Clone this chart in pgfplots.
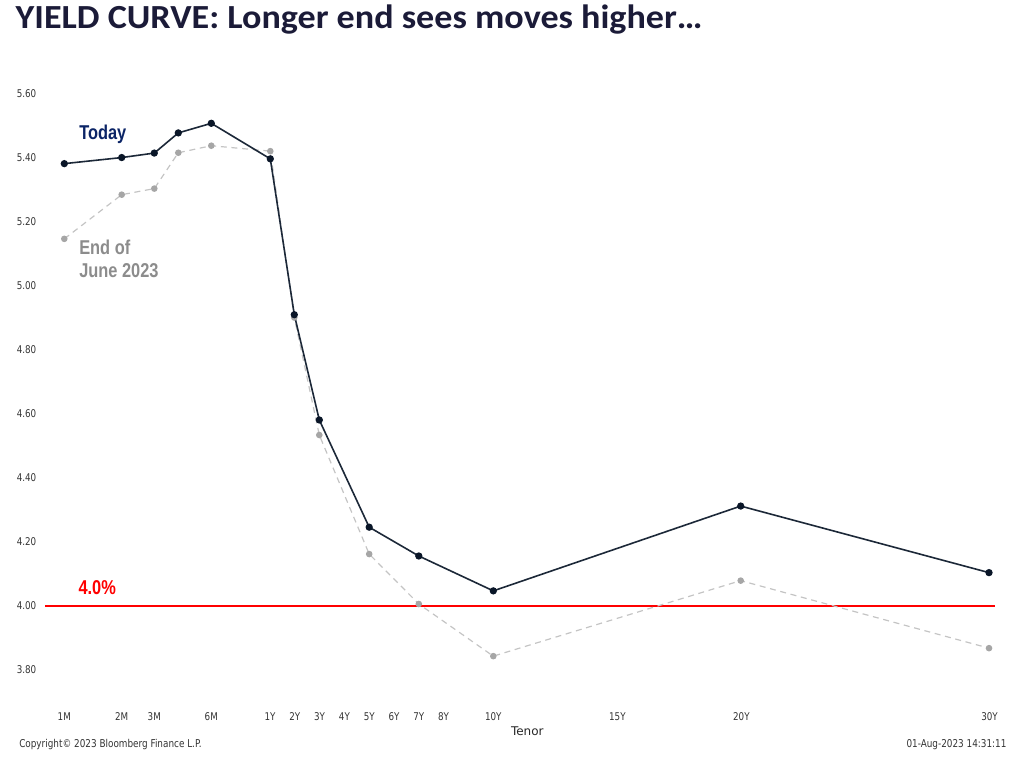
\documentclass[border=0pt]{standalone}
\usepackage{pgfplots}
\pgfplotsset{compat=1.18}
\usepackage{fontspec}
\setmainfont{DejaVu Sans}
\newfontfamily\titlefont[FakeStretch=1.07]{Carlito}
\newfontfamily\condfont[FakeStretch=0.82]{Liberation Sans}
\newfontfamily\tickfont[FakeStretch=0.82]{DejaVu Sans}
\definecolor{titlecol}{HTML}{1B1B38}
\definecolor{todaycol}{HTML}{1C2838}
\definecolor{todaymark}{HTML}{0A1628}
\definecolor{todaylab}{HTML}{0B2466}
\definecolor{junecol}{HTML}{C4C4C4}
\definecolor{junemark}{HTML}{A6A6A6}
\definecolor{junelab}{HTML}{8C8C8C}
\definecolor{tickcol}{HTML}{333333}
\begin{document}
\begin{tikzpicture}
\path[use as bounding box] (0,0) rectangle (768pt,572.25pt);
\begin{axis}[
  at={(33.75pt,47.25pt)}, anchor=south west,
  scale only axis, width=712.5pt, height=468.75pt,
  xmin=45, xmax=995, ymin=3.705, ymax=5.658,
  clip=false,
  axis line style={draw=none},
  tick style={draw=none},
  xtick={64.3,121.7,154.3,211.3,270,294.8,319.6,344.4,369.2,394,418.8,443.6,493.3,617.4,741.4,989.5},
  xticklabels={1M,2M,3M,6M,1Y,2Y,3Y,4Y,5Y,6Y,7Y,8Y,10Y,15Y,20Y,30Y},
  ytick={3.8,4.0,4.2,4.4,4.6,4.8,5.0,5.2,5.4,5.6},
  yticklabels={3.80,4.00,4.20,4.40,4.60,4.80,5.00,5.20,5.40,5.60},
  xticklabel style={font=\tickfont\fontsize{8pt}{9pt}\selectfont, text=tickcol, yshift=-6pt},
  yticklabel style={font=\tickfont\fontsize{8pt}{9pt}\selectfont, text=tickcol, xshift=-3pt},
]
\addplot[red, line width=1.5pt, forget plot] coordinates {(45,4.0) (995,4.0)};
\addplot[junecol, line width=0.9pt, dash pattern=on 4.5pt off 3.5pt,
  mark=*, mark size=2pt, mark options={solid, fill=junemark, draw=junemark}] coordinates {
  (64.3,5.146) (121.7,5.284) (154.3,5.303) (178.3,5.415) (211.3,5.437) (270.3,5.420)
  (294.3,4.900) (319.3,4.533) (369.2,4.161) (418.8,4.005) (493.3,3.842) (740.7,4.078) (989,3.867)};
\addplot[todaycol, line width=1.2pt,
  mark=*, mark size=2.1pt, mark options={fill=todaymark, draw=todaymark}] coordinates {
  (64.3,5.381) (121.7,5.400) (154.3,5.414) (178.3,5.477) (211.3,5.507) (270.3,5.396)
  (294.3,4.909) (319.3,4.580) (369.2,4.245) (418.8,4.155) (493.3,4.046) (740.7,4.311) (989,4.103)};
\end{axis}
\node[anchor=base west, inner sep=0, text=titlecol, font=\titlefont\bfseries\fontsize{25.3pt}{28pt}\selectfont] at (11.5pt,551pt) {YIELD CURVE: Longer end sees moves higher…};
\node[anchor=base west, inner sep=0, text=todaylab, font=\condfont\bfseries\fontsize{15pt}{17pt}\selectfont] at (59.25pt,467.8pt) {Today};
\node[anchor=base west, inner sep=0, text=junelab, font=\condfont\bfseries\fontsize{15pt}{17pt}\selectfont] at (59.25pt,381.5pt) {End of};
\node[anchor=base west, inner sep=0, text=junelab, font=\condfont\bfseries\fontsize{15pt}{17pt}\selectfont] at (59.25pt,364.3pt) {June 2023};
\node[anchor=base west, inner sep=0, text=red, font=\condfont\bfseries\fontsize{15pt}{17pt}\selectfont] at (58.7pt,126pt) {4.0\%};
\node[anchor=center, inner sep=0, text=black!85, font=\fontsize{9pt}{11pt}\selectfont] at (395.5pt,24pt) {Tenor};
\node[anchor=base west, inner sep=0, text=tickcol, font=\tickfont\fontsize{8.1pt}{9pt}\selectfont] at (14.25pt,11.5pt) {Copyright© 2023 Bloomberg Finance L.P.};
\node[anchor=base east, inner sep=0, text=tickcol, font=\tickfont\fontsize{8.1pt}{9pt}\selectfont] at (755pt,11.5pt) {01-Aug-2023 14:31:11};
\end{tikzpicture}
\end{document}
